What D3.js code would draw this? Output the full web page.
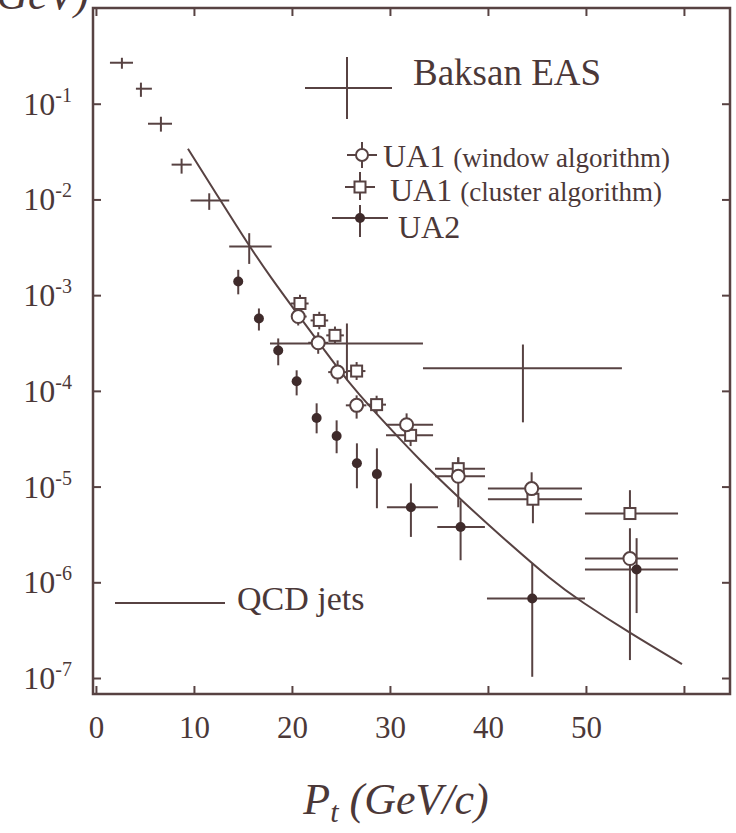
<!DOCTYPE html>
<html>
<head>
<meta charset="utf-8">
<script src="https://cdn.jsdelivr.net/npm/d3@7"></script>
<style>
  body { margin: 0; background: #fff; }
  svg { display: block; }
  text { font-family: "Liberation Serif", "Times New Roman", serif; fill: #4b3838; }
</style>
</head>
<body>
<svg id="chart" width="736" height="833"></svg>
<script>
// ---------- data ----------
// Baksan EAS: pt, flux, pt range, flux range
const baksan = [
  { pt: 2.65,  f: 0.268,   ptLo: 1.43,  ptHi: 3.78,  fLo: 0.232,   fHi: 0.302 },
  { pt: 4.59,  f: 0.1435,  ptLo: 4.08,  ptHi: 5.71,  fLo: 0.118,   fHi: 0.166 },
  { pt: 6.63,  f: 0.0618,  ptLo: 5.31,  ptHi: 7.76,  fLo: 0.0511,  fHi: 0.0731 },
  { pt: 8.74,  f: 0.0231,  ptLo: 7.72,  ptHi: 9.77,  fLo: 0.0186,  fHi: 0.0267 },
  { pt: 11.56, f: 0.00972, ptLo: 9.66,  ptHi: 13.6,  fLo: 0.00778, fHi: 0.01159 },
  { pt: 15.64, f: 0.00322, ptLo: 13.6,  ptHi: 17.93, fLo: 0.00212, fHi: 0.00444 },
  { pt: 25.61, f: 3.13e-4, ptLo: 17.76, ptHi: 33.37, fLo: 1.29e-4, fHi: 5.06e-4 },
  { pt: 43.57, f: 1.72e-4, ptLo: 33.37, ptHi: 53.67, fLo: 4.69e-5, fHi: 3.05e-4 }
];

// UA1, window algorithm (open circles)
const ua1Window = [
  { pt: 20.64, f: 5.98e-4, ptLo: 19.9, ptHi: 21.5, fLo: 4.82e-4, fHi: 7.26e-4 },
  { pt: 22.68, f: 3.18e-4, ptLo: 21.66, ptHi: 23.7, fLo: 2.44e-4, fHi: 4.1e-4 },
  { pt: 24.66, f: 1.57e-4, ptLo: 23.7, ptHi: 25.64, fLo: 1.19e-4, fHi: 2.08e-4 },
  { pt: 26.6,  f: 7.06e-5, ptLo: 25.5, ptHi: 27.6, fLo: 5.13e-5, fHi: 8.97e-5 },
  { pt: 31.7,  f: 4.43e-5, ptLo: 29.6, ptHi: 34.4, fLo: 3.6e-5, fHi: 5.82e-5 },
  { pt: 36.97, f: 1.28e-5, ptLo: 34.6, ptHi: 39.7, fLo: 6.08e-6, fHi: 2.02e-5 },
  { pt: 44.46, f: 9.53e-6, ptLo: 40.0, ptHi: 49.6, fLo: 7.2e-6, fHi: 1.41e-5 },
  { pt: 54.49, f: 1.77e-6, ptLo: 49.9, ptHi: 59.4, fLo: 1.54e-7, fHi: 3.67e-6 }
];

// UA1, cluster algorithm (open squares)
const ua1Cluster = [
  { pt: 20.82, f: 8.18e-4, ptLo: 19.9, ptHi: 21.7, fLo: 6.6e-4, fHi: 1.01e-3 },
  { pt: 22.79, f: 5.44e-4, ptLo: 21.9, ptHi: 23.7, fLo: 4.4e-4, fHi: 6.7e-4 },
  { pt: 24.39, f: 3.80e-4, ptLo: 23.5, ptHi: 25.3, fLo: 3.1e-4, fHi: 4.7e-4 },
  { pt: 26.6,  f: 1.61e-4, ptLo: 25.7, ptHi: 27.5, fLo: 1.3e-4, fHi: 2.0e-4 },
  { pt: 28.64, f: 7.18e-5, ptLo: 27.7, ptHi: 29.6, fLo: 5.8e-5, fHi: 8.9e-5 },
  { pt: 32.11, f: 3.43e-5, ptLo: 29.6, ptHi: 34.4, fLo: 2.65e-5, fHi: 4.4e-5 },
  { pt: 36.97, f: 1.54e-5, ptLo: 34.6, ptHi: 39.7, fLo: 1.25e-5, fHi: 2.02e-5 },
  { pt: 44.59, f: 7.38e-6, ptLo: 40.0, ptHi: 49.6, fLo: 4.14e-6, fHi: 9.17e-6 },
  { pt: 54.49, f: 5.23e-6, ptLo: 49.9, ptHi: 59.4, fLo: 5.23e-6, fHi: 9.17e-6 }
];

// UA2 (filled dots)
const ua2 = [
  { pt: 14.52, f: 1.39e-3, fLo: 1.02e-3, fHi: 1.84e-3 },
  { pt: 16.63, f: 5.70e-4, fLo: 4.27e-4, fHi: 7.26e-4 },
  { pt: 18.6,  f: 2.64e-4, fLo: 1.85e-4, fHi: 3.53e-4 },
  { pt: 20.48, f: 1.26e-4, fLo: 8.97e-5, fHi: 1.64e-4 },
  { pt: 22.52, f: 5.20e-5, fLo: 3.60e-5, fHi: 7.41e-5 },
  { pt: 24.56, f: 3.37e-5, fLo: 2.23e-5, fHi: 4.92e-5 },
  { pt: 26.63, f: 1.75e-5, fLo: 9.6e-6,  fHi: 2.83e-5 },
  { pt: 28.67, f: 1.35e-5, fLo: 5.94e-6, fHi: 2.51e-5 },
  { pt: 32.14, f: 6.08e-6, ptLo: 29.69, ptHi: 34.9,  fLo: 2.98e-6, fHi: 1.08e-5 },
  { pt: 37.21, f: 3.79e-6, ptLo: 34.83, ptHi: 39.69, fLo: 1.70e-6, fHi: 7.2e-6 },
  { pt: 44.52, f: 6.78e-7, ptLo: 39.9,  ptHi: 49.9,  fLo: 1.03e-7, fHi: 1.57e-6 },
  { pt: 55.17, f: 1.36e-6, ptLo: 49.9,  ptHi: 59.39, fLo: 4.77e-7, fHi: 2.89e-6 }
];

// QCD jets curve
const qcdPt   = [9.39, 12.65, 15.61, 17.76, 20.61, 22.65, 24.69, 26.63, 30.0, 32.76, 36.84, 41.22, 46.63, 49.39, 54.49, 59.8];
const qcdFlux = [3.39e-2, 9.95e-3, 3.30e-3, 1.57e-3, 6.28e-4, 3.28e-4, 1.72e-4, 9.64e-5, 4.06e-5, 2.02e-5, 7.93e-6, 3.10e-6, 1.02e-6, 6.4e-7, 2.94e-7, 1.40e-7];

// axes
const xTicks = [0, 10, 20, 30, 40, 50, 60];
const xLabels = ["0", "10", "20", "30", "40", "50", ""];
const yExponents = [-1, -2, -3, -4, -5, -6, -7];

// ---------- drawing ----------
const ink = "#574242";
const svg = d3.select("#chart");

const x = d3.scaleLinear().domain([-0.3, 64.7]).range([93, 730]);
const y = d3.scaleLog().domain([Math.pow(10, -7.167), 1]).range([694, 8]);
const yTicks = yExponents.map(e => Math.pow(10, e));

// frame
svg.append("rect")
  .attr("x", 93).attr("y", 8)
  .attr("width", 730 - 93).attr("height", 694 - 8)
  .attr("fill", "none").attr("stroke", ink).attr("stroke-width", 2.5);

function styleAxis(g) {
  g.select(".domain").remove();
  g.selectAll(".tick line").attr("stroke", ink).attr("stroke-width", 2);
}

svg.append("g").attr("transform", "translate(0,694)")
  .call(d3.axisBottom(x).tickValues(xTicks).tickSizeInner(-8).tickSizeOuter(0)
    .tickFormat((d, i) => xLabels[i]))
  .call(styleAxis)
  .call(g => g.selectAll(".tick text")
    .attr("y", 44).attr("dy", 0)
    .style("font-size", "31px")
    .attr("fill", "#4b3838"));

svg.append("g").attr("transform", "translate(0,8)")
  .call(d3.axisTop(x).tickValues(xTicks).tickSizeInner(-8).tickSizeOuter(0).tickFormat(""))
  .call(styleAxis);

svg.append("g").attr("transform", "translate(93,0)")
  .call(d3.axisLeft(y).tickValues(yTicks).tickSizeInner(-8).tickSizeOuter(0).tickFormat(""))
  .call(styleAxis);

svg.append("g").attr("transform", "translate(730,0)")
  .call(d3.axisRight(y).tickValues(yTicks).tickSizeInner(-8).tickSizeOuter(0).tickFormat(""))
  .call(styleAxis);

// y tick labels 10^n
const yLab = svg.append("g").selectAll("text")
  .data(yExponents)
  .join("text")
  .attr("x", 72)
  .attr("y", d => y(Math.pow(10, d)) + 11)
  .attr("text-anchor", "end")
  .style("font-size", "32px");
yLab.append("tspan").text("10");
yLab.append("tspan").attr("dy", -13).style("font-size", "20px").text(d => d);

// axis title (bottom) and cut-off title at top-left
const xt = svg.append("text")
  .attr("x", 396).attr("y", 814)
  .attr("text-anchor", "middle")
  .style("font-size", "44px").style("font-style", "italic");
xt.append("tspan").text("P");
xt.append("tspan").attr("dy", 8).style("font-size", "30px").text("t");
xt.append("tspan").attr("dy", -8).text(" (GeV/c)");

svg.append("text")
  .attr("x", 89).attr("y", 9)
  .attr("text-anchor", "end")
  .style("font-size", "44px").style("font-style", "italic")
  .text("GeV)");

// QCD curve
const qcd = qcdPt.map((p, i) => ({ pt: p, f: qcdFlux[i] }));
svg.append("path")
  .datum(qcd)
  .attr("fill", "none")
  .attr("stroke", ink)
  .attr("stroke-width", 2)
  .attr("d", d3.line().x(d => x(d.pt)).y(d => y(d.f)).curve(d3.curveBasis));

// error bars
function errorBars(data) {
  const g = svg.append("g").attr("stroke", ink).attr("stroke-width", 2);
  g.selectAll(".h")
    .data(data.filter(d => d.ptLo != null))
    .join("line")
    .attr("x1", d => x(d.ptLo)).attr("x2", d => x(d.ptHi))
    .attr("y1", d => y(d.f)).attr("y2", d => y(d.f));
  g.selectAll(".v")
    .data(data.filter(d => d.fLo != null))
    .join("line")
    .attr("x1", d => x(d.pt)).attr("x2", d => x(d.pt))
    .attr("y1", d => y(d.fLo)).attr("y2", d => y(d.fHi));
}
errorBars(baksan);
errorBars(ua1Window);
errorBars(ua1Cluster);
errorBars(ua2);

// markers
svg.append("g").selectAll("rect")
  .data(ua1Cluster)
  .join("rect")
  .attr("x", d => x(d.pt) - 5.5).attr("y", d => y(d.f) - 5.5)
  .attr("width", 11).attr("height", 11)
  .attr("fill", "#fff").attr("stroke", ink).attr("stroke-width", 2);

svg.append("g").selectAll("circle")
  .data(ua1Window)
  .join("circle")
  .attr("cx", d => x(d.pt)).attr("cy", d => y(d.f))
  .attr("r", 6.5)
  .attr("fill", "#fff").attr("stroke", ink).attr("stroke-width", 2);

svg.append("g").selectAll("circle")
  .data(ua2)
  .join("circle")
  .attr("cx", d => x(d.pt)).attr("cy", d => y(d.f))
  .attr("r", 5)
  .attr("fill", "#3f2b2b");

// ---------- legend ----------
const lg = svg.append("g").attr("stroke", ink).attr("stroke-width", 2);
// Baksan cross
lg.append("line").attr("x1", 305).attr("x2", 392).attr("y1", 88).attr("y2", 88);
lg.append("line").attr("x1", 347).attr("x2", 347).attr("y1", 57).attr("y2", 119);
// UA1 window
lg.append("line").attr("x1", 347).attr("x2", 377).attr("y1", 155).attr("y2", 155);
lg.append("line").attr("x1", 362).attr("x2", 362).attr("y1", 142).attr("y2", 168);
lg.append("circle").attr("cx", 362).attr("cy", 155).attr("r", 6).attr("fill", "#fff");
// UA1 cluster
lg.append("line").attr("x1", 345).attr("x2", 375).attr("y1", 187).attr("y2", 187);
lg.append("line").attr("x1", 360).attr("x2", 360).attr("y1", 172).attr("y2", 200);
lg.append("rect").attr("x", 354.5).attr("y", 181.5).attr("width", 11).attr("height", 11).attr("fill", "#fff");
// UA2
lg.append("line").attr("x1", 332).attr("x2", 388).attr("y1", 218).attr("y2", 218);
lg.append("line").attr("x1", 360).attr("x2", 360).attr("y1", 205).attr("y2", 237);
lg.append("circle").attr("cx", 360).attr("cy", 218).attr("r", 5).attr("fill", "#3f2b2b").attr("stroke", "none");
// QCD jets
lg.append("line").attr("x1", 115).attr("x2", 225).attr("y1", 603).attr("y2", 603);

svg.append("text").attr("x", 413).attr("y", 85).style("font-size", "37px").text("Baksan EAS");

const t1 = svg.append("text").attr("x", 383).attr("y", 167).style("font-size", "32px");
t1.append("tspan").text("UA1 ");
t1.append("tspan").style("font-size", "27px").text("(window algorithm)");

const t2 = svg.append("text").attr("x", 390).attr("y", 201).style("font-size", "32px");
t2.append("tspan").text("UA1 ");
t2.append("tspan").style("font-size", "27px").text("(cluster algorithm)");

svg.append("text").attr("x", 398).attr("y", 238).style("font-size", "32px").text("UA2");
svg.append("text").attr("x", 237).attr("y", 610).style("font-size", "34px").text("QCD jets");
</script>
</body>
</html>
